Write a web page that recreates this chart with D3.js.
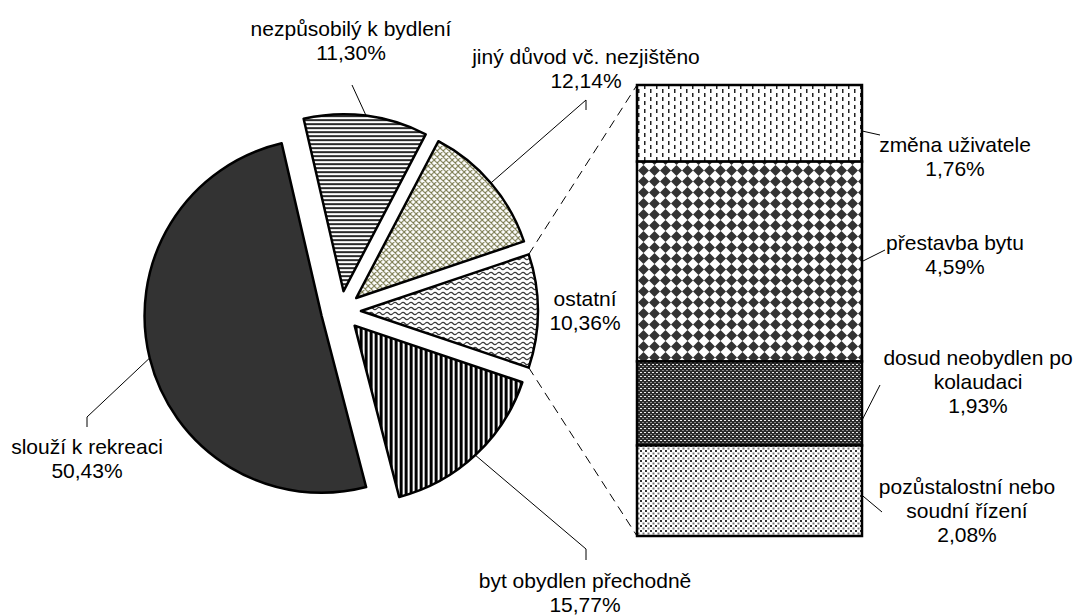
<!DOCTYPE html>
<html>
<head>
<meta charset="utf-8">
<script src="https://cdn.jsdelivr.net/npm/d3@7"></script>
<style>
  body { margin: 0; background: #fff; }
  svg { display: block; }
  text { font-family: Arial, "Liberation Sans", sans-serif; font-size: 21px; fill: #000; }
</style>
</head>
<body>
<svg id="chart" width="1083" height="615"></svg>
<script>
// pie: clockwise, starting with the slice that is split into the bar
const pieLabels = ['ostatní', 'byt obydlen přechodně', 'slouží k rekreaci', 'nezpůsobilý k bydlení', 'jiný důvod vč. nezjištěno']
const pieValues = [10.36, 15.77, 50.43, 11.30, 12.14]

// bar: top to bottom
const barLabels = ['změna uživatele', 'přestavba bytu', 'dosud neobydlen po\nkolaudaci', 'pozůstalostní nebo\nsoudní řízení']
const barValues = [1.76, 4.59, 1.93, 2.08]

const svg = d3.select('#chart')
const defs = svg.append('defs')

const fmt = v => v.toFixed(2).replace('.', ',') + '%'

// ---------- fill patterns ----------
const pat = (id, w, h, bg) => {
  const p = defs.append('pattern').attr('id', id)
    .attr('patternUnits', 'userSpaceOnUse').attr('width', w).attr('height', h)
  p.append('rect').attr('width', w).attr('height', h).attr('fill', bg)
  return p
}

// horizontal stripes
let p = pat('p-hstripe', 4, 4, '#fff')
p.append('rect').attr('y', 0).attr('width', 4).attr('height', 2).attr('fill', '#2a2a2a')

// olive crosshatch
p = pat('p-cross', 6, 6, '#fff')
p.append('path').attr('d', 'M0,0L6,6M6,0L0,6M-1,5L1,7M5,-1L7,1M-1,1L1,-1M5,7L7,5')
  .attr('stroke', '#77774a').attr('stroke-width', 1.1).attr('fill', 'none')

// waves
p = pat('p-wave', 8, 5, '#fff')
p.append('path').attr('d', 'M0,2.5 Q2,0.3 4,2.5 T8,2.5')
  .attr('stroke', '#3a3a3a').attr('stroke-width', 1.2).attr('fill', 'none')

// vertical stripes
p = pat('p-vstripe', 5, 5, '#fff')
p.append('rect').attr('width', 3).attr('height', 5).attr('fill', '#000')

// small vertical dashes
p = pat('p-dash', 12, 8, '#fff')
p.append('rect').attr('x', 2).attr('y', 1).attr('width', 1.5).attr('height', 4).attr('fill', '#222')
p.append('rect').attr('x', 8).attr('y', 5).attr('width', 1.5).attr('height', 4).attr('fill', '#222')
p.append('rect').attr('x', 8).attr('y', -3).attr('width', 1.5).attr('height', 4).attr('fill', '#222')

// diamonds
p = pat('p-diamond', 11, 11, '#fff')
p.append('path').attr('d', 'M5.5,0 L11,5.5 L5.5,11 L0,5.5Z').attr('fill', '#333')

// dense dark weave
p = pat('p-weave', 4, 4, '#2a2a2a')
p.append('rect').attr('x', 0).attr('y', 0).attr('width', 2).attr('height', 1).attr('fill', '#eee')
p.append('rect').attr('x', 2).attr('y', 2).attr('width', 2).attr('height', 1).attr('fill', '#888')

// light dots
p = pat('p-dots', 5, 5, '#fff')
p.append('rect').attr('x', 0).attr('y', 0).attr('width', 2).attr('height', 2).attr('fill', '#333')
p.append('rect').attr('x', 2.5).attr('y', 2.5).attr('width', 2).attr('height', 2).attr('fill', '#777')

const pieFills = ['url(#p-wave)', 'url(#p-vstripe)', '#333333', 'url(#p-hstripe)', 'url(#p-cross)']
const barFills = ['url(#p-dash)', 'url(#p-diamond)', 'url(#p-weave)', 'url(#p-dots)']

// ---------- pie ----------
const cx = 341, cy = 311, R = 177, explode = 20
const total = d3.sum(pieValues)
const firstSpan = pieValues[0] / total * 2 * Math.PI
const pie = d3.pie().sort(null).value(d => d)
  .startAngle(Math.PI / 2 - firstSpan / 2)
  .endAngle(Math.PI / 2 - firstSpan / 2 + 2 * Math.PI)
const arcs = pie(pieValues)
const arc = d3.arc().innerRadius(0).outerRadius(R)

const apex = d => {
  const m = (d.startAngle + d.endAngle) / 2
  return [cx + explode * Math.sin(m), cy - explode * Math.cos(m)]
}
const onArc = (d, a) => {
  const [x, y] = apex(d)
  return [x + R * Math.sin(a), y - R * Math.cos(a)]
}

svg.selectAll('path.slice')
  .data(arcs)
  .enter()
  .append('path')
  .attr('class', 'slice')
  .attr('transform', d => `translate(${apex(d)})`)
  .attr('d', arc)
  .attr('fill', (d, i) => pieFills[i])
  .attr('stroke', '#000')
  .attr('stroke-width', 2.5)
  .attr('stroke-linejoin', 'round')

// ---------- bar ----------
const barX = 637, barW = 225
const y = d3.scaleLinear().domain([0, d3.sum(barValues)]).range([85, 536])
const cum = d3.cumsum([0, ...barValues])

svg.selectAll('rect.seg')
  .data(barValues)
  .enter()
  .append('rect')
  .attr('class', 'seg')
  .attr('x', barX)
  .attr('y', (d, i) => y(cum[i]))
  .attr('width', barW)
  .attr('height', d => y(d) - y(0))
  .attr('fill', (d, i) => barFills[i])
  .attr('stroke', '#000')
  .attr('stroke-width', 2.5)

// series lines from the split slice to the bar
const other = arcs[0]
const topPt = onArc(other, other.startAngle)
const botPt = onArc(other, other.endAngle)
svg.append('line').attr('x1', topPt[0]).attr('y1', topPt[1]).attr('x2', barX).attr('y2', y(0))
  .attr('stroke', '#000').attr('stroke-dasharray', '9,6')
svg.append('line').attr('x1', botPt[0]).attr('y1', botPt[1]).attr('x2', barX).attr('y2', y(d3.sum(barValues)))
  .attr('stroke', '#000').attr('stroke-dasharray', '9,6')

// ---------- labels ----------
const lineH = 24
const drawLabel = (x, y0, lines) => {
  const t = svg.append('text').attr('text-anchor', 'middle')
  lines.forEach((l, k) => t.append('tspan').attr('x', x).attr('y', y0 + k * lineH).text(l))
}

// pie label anchors (text centre x, first baseline) and leader start
const pieLabelPos = [
  { x: 585, y: 306, lead: null },
  { x: 585, y: 588, lead: [[586, 560], [586, 549]] },
  { x: 87, y: 454, lead: [[87, 427], [87, 417]] },
  { x: 351, y: 36, lead: [[352, 85]] },
  { x: 586, y: 64, lead: [[586, 110], [586, 100]] }
]
const leader = d3.line()

arcs.forEach((d, i) => {
  const pos = pieLabelPos[i]
  drawLabel(pos.x, pos.y, [...pieLabels[i].split('\n'), fmt(pieValues[i])])
  if (pos.lead) {
    const end = onArc(d, (d.startAngle + d.endAngle) / 2)
    svg.append('path').attr('d', leader([...pos.lead, end]))
      .attr('fill', 'none').attr('stroke', '#000').attr('stroke-width', 1)
  }
})

const barLabelPos = [
  { x: 955, y: 152, from: 0.6, to: [880, 135] },
  { x: 955, y: 250, from: 0.5, to: [885, 250] },
  { x: 978, y: 365, from: 0.7, to: [880, 385] },
  { x: 967, y: 494, from: 0.55, to: [882, 512] }
]
barValues.forEach((v, i) => {
  const pos = barLabelPos[i]
  drawLabel(pos.x, pos.y, [...barLabels[i].split('\n'), fmt(v)])
  const sy = y(cum[i] + v * pos.from)
  svg.append('path').attr('d', leader([[barX + barW, sy], pos.to]))
    .attr('fill', 'none').attr('stroke', '#000').attr('stroke-width', 1)
})
</script>
</body>
</html>
